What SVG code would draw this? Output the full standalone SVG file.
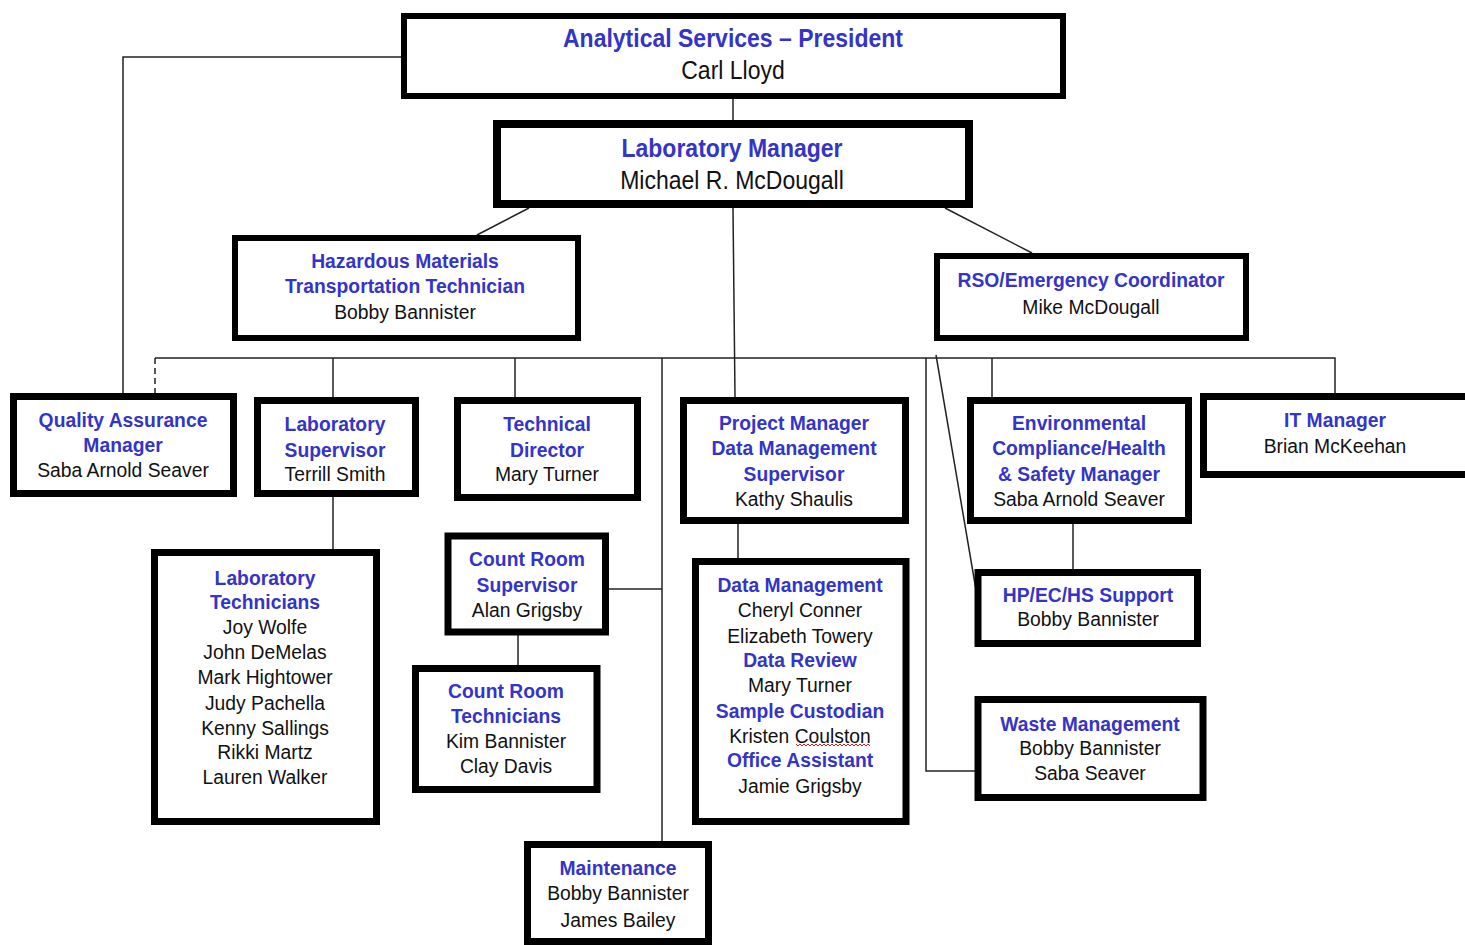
<svg xmlns="http://www.w3.org/2000/svg" width="1465" height="945" viewBox="0 0 1465 945">
<style>
.box{fill:#fff;stroke:#000}
.w6{stroke-width:6}.w7{stroke-width:7}.w8{stroke-width:8}
text{font-family:"Liberation Sans",Arial,sans-serif;text-anchor:middle;font-size:21px}
.big{font-size:25px}
.b{fill:#3434c8;font-weight:bold}
.n{fill:#111}
.conn{stroke:#222;stroke-width:1.5;fill:none}
</style>
<rect x="0" y="0" width="1465" height="945" fill="#fff"/>
<g id="connectors" class="conn">
<polyline points="401,57 123,57 123,393"/>
<line x1="733" y1="99" x2="733" y2="120"/>
<line x1="529" y1="208" x2="477" y2="235"/>
<line x1="945" y1="208" x2="1032" y2="253"/>
<line x1="733" y1="208" x2="735" y2="397"/>
<polyline points="155,358 1335,358 1335,393"/>
<line x1="155" y1="358" x2="155" y2="393" stroke-dasharray="6,4"/>
<line x1="333" y1="358" x2="333" y2="397"/>
<line x1="515" y1="358" x2="515" y2="397"/>
<line x1="662" y1="358" x2="662" y2="841"/>
<polyline points="926,358 926,771 975,771"/>
<line x1="936" y1="355" x2="976" y2="590"/>
<line x1="992" y1="358" x2="992" y2="397"/>
<line x1="333" y1="497" x2="333" y2="549"/>
<line x1="609" y1="589" x2="662" y2="589"/>
<line x1="518" y1="635" x2="518" y2="665"/>
<line x1="738" y1="524" x2="738" y2="561"/>
<line x1="1073" y1="524" x2="1073" y2="569"/>
</g>
<g id="president">
<rect class="box w6" x="404" y="16" width="659" height="80"/>
<g transform="translate(733 0) scale(0.92 1)">
<text class="b big" x="0" y="47">Analytical Services – President</text>
<text class="n big" x="0" y="79">Carl Lloyd</text>
</g>
</g>
<g id="lab-manager">
<rect class="box w8" x="497" y="124" width="472" height="80"/>
<g transform="translate(732 0) scale(0.92 1)">
<text class="b big" x="0" y="157">Laboratory Manager</text>
<text class="n big" x="0" y="189">Michael R. McDougall</text>
</g>
</g>
<g id="hazmat">
<rect class="box w6" x="235" y="238" width="343" height="100"/>
<g transform="translate(405 0) scale(0.92 1)">
<text class="b" x="0" y="268">Hazardous Materials</text>
<text class="b" x="0" y="293">Transportation  Technician</text>
<text class="n" x="0" y="319">Bobby Bannister</text>
</g>
</g>
<g id="rso">
<rect class="box w6" x="937" y="256" width="309" height="82"/>
<g transform="translate(1091 0) scale(0.92 1)">
<text class="b" x="0" y="287">RSO/Emergency  Coordinator</text>
<text class="n" x="0" y="314">Mike McDougall</text>
</g>
</g>
<g id="qa-manager">
<rect class="box w7" x="13.5" y="396.5" width="220" height="97"/>
<g transform="translate(123 0) scale(0.92 1)">
<text class="b" x="0" y="427">Quality Assurance</text>
<text class="b" x="0" y="452">Manager</text>
<text class="n" x="0" y="477">Saba Arnold Seaver</text>
</g>
</g>
<g id="lab-supervisor">
<rect class="box w7" x="257.5" y="400.5" width="158" height="93"/>
<g transform="translate(335 0) scale(0.92 1)">
<text class="b" x="0" y="431">Laboratory</text>
<text class="b" x="0" y="457">Supervisor</text>
<text class="n" x="0" y="481">Terrill  Smith</text>
</g>
</g>
<g id="technical-director">
<rect class="box w7" x="457.5" y="400.5" width="180" height="97"/>
<g transform="translate(547 0) scale(0.92 1)">
<text class="b" x="0" y="431">Technical</text>
<text class="b" x="0" y="457">Director</text>
<text class="n" x="0" y="481">Mary Turner</text>
</g>
</g>
<g id="project-manager">
<rect class="box w7" x="683.5" y="400.5" width="222" height="120"/>
<g transform="translate(794 0) scale(0.92 1)">
<text class="b" x="0" y="430">Project Manager</text>
<text class="b" x="0" y="455">Data  Management</text>
<text class="b" x="0" y="481">Supervisor</text>
<text class="n" x="0" y="506">Kathy Shaulis</text>
</g>
</g>
<g id="env-compliance">
<rect class="box w7" x="970.5" y="400.5" width="218" height="120"/>
<g transform="translate(1079 0) scale(0.92 1)">
<text class="b" x="0" y="430">Environmental</text>
<text class="b" x="0" y="455">Compliance/Health</text>
<text class="b" x="0" y="481">&amp; Safety  Manager</text>
<text class="n" x="0" y="506">Saba Arnold Seaver</text>
</g>
</g>
<g id="it-manager">
<rect class="box w7" x="1203.5" y="396.5" width="275" height="78"/>
<g transform="translate(1335 0) scale(0.92 1)">
<text class="b" x="0" y="427">IT Manager</text>
<text class="n" x="0" y="453">Brian McKeehan</text>
</g>
</g>
<g id="lab-technicians">
<rect class="box w7" x="154.5" y="552.5" width="222" height="269"/>
<g transform="translate(265 0) scale(0.92 1)">
<text class="b" x="0" y="585">Laboratory</text>
<text class="b" x="0" y="609">Technicians</text>
<text class="n" x="0" y="634">Joy Wolfe</text>
<text class="n" x="0" y="659">John DeMelas</text>
<text class="n" x="0" y="684">Mark Hightower</text>
<text class="n" x="0" y="710">Judy Pachella</text>
<text class="n" x="0" y="735">Kenny  Sallings</text>
<text class="n" x="0" y="759">Rikki Martz</text>
<text class="n" x="0" y="784">Lauren  Walker</text>
</g>
</g>
<g id="count-room-supervisor">
<rect class="box w7" x="448" y="536" width="157.5" height="96"/>
<g transform="translate(527 0) scale(0.92 1)">
<text class="b" x="0" y="566">Count Room</text>
<text class="b" x="0" y="592">Supervisor</text>
<text class="n" x="0" y="617">Alan Grigsby</text>
</g>
</g>
<g id="count-room-technicians">
<rect class="box w7" x="415.5" y="668.5" width="181.5" height="121"/>
<g transform="translate(506 0) scale(0.92 1)">
<text class="b" x="0" y="698">Count Room</text>
<text class="b" x="0" y="723">Technicians</text>
<text class="n" x="0" y="748">Kim Bannister</text>
<text class="n" x="0" y="773">Clay Davis</text>
</g>
</g>
<g id="maintenance">
<rect class="box w7" x="527.5" y="844.5" width="181" height="97"/>
<g transform="translate(618 0) scale(0.92 1)">
<text class="b" x="0" y="875">Maintenance</text>
<text class="n" x="0" y="900">Bobby Bannister</text>
<text class="n" x="0" y="927">James Bailey</text>
</g>
</g>
<g id="data-management">
<rect class="box w7" x="695.5" y="561.5" width="210.5" height="260"/>
<g transform="translate(800 0) scale(0.92 1)">
<text class="b" x="0" y="592">Data Management</text>
<text class="n" x="0" y="617">Cheryl Conner</text>
<text class="n" x="0" y="643">Elizabeth Towery</text>
<text class="b" x="0" y="667">Data  Review</text>
<text class="n" x="0" y="692">Mary Turner</text>
<text class="b" x="0" y="718">Sample Custodian</text>
<text class="n" x="0" y="743">Kristen Coulston</text>
<text class="b" x="0" y="767">Office  Assistant</text>
<text class="n" x="0" y="793">Jamie Grigsby</text>
</g>
<path d="M796 744 l2 2 l2 -2 l2 2 l2 -2 l2 2 l2 -2 l2 2 l2 -2 l2 2 l2 -2 l2 2 l2 -2 l2 2 l2 -2 l2 2 l2 -2 l2 2 l2 -2 l2 2 l2 -2 l2 2 l2 -2 l2 2 l2 -2 l2 2 l2 -2 l2 2 l2 -2 l2 2 l2 -2 l2 2 l2 -2 l2 2 l2 -2 l2 2 l2 -2 l2 2" fill="none" stroke="#e02020" stroke-width="1"/>
</g>
<g id="hp-ec-hs-support">
<rect class="box w7" x="978" y="572.5" width="219.5" height="71"/>
<g transform="translate(1088 0) scale(0.92 1)">
<text class="b" x="0" y="602">HP/EC/HS  Support</text>
<text class="n" x="0" y="626">Bobby Bannister</text>
</g>
</g>
<g id="waste-management">
<rect class="box w7" x="978" y="699.5" width="225" height="98"/>
<g transform="translate(1090 0) scale(0.92 1)">
<text class="b" x="0" y="731">Waste  Management</text>
<text class="n" x="0" y="755">Bobby Bannister</text>
<text class="n" x="0" y="780">Saba Seaver</text>
</g>
</g>
</svg>
